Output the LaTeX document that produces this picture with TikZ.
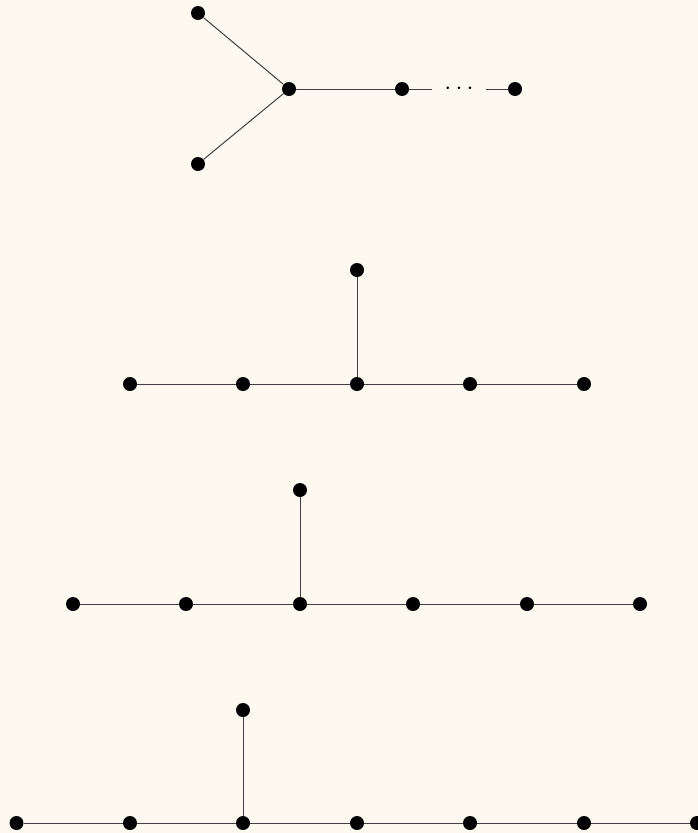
\documentclass[tikz,border=0pt]{standalone}
\definecolor{bgcream}{RGB}{253,248,240}
\begin{document}
\begin{tikzpicture}[x=1pt,y=-1pt,
  vtx/.style={circle,fill=black,inner sep=0pt,minimum size=14pt},
  edge/.style={line width=1pt,black!75},
  dotsnode/.style={inner sep=0pt,minimum width=54pt,minimum height=10pt,font=\fontsize{24}{28}\selectfont}]
\fill[bgcream] (0,0) rectangle (698,833);
\useasboundingbox (0,0) rectangle (698,833);
% D_n
\node[vtx] (d1) at (198,13) {};
\node[vtx] (d2) at (198,164) {};
\node[vtx] (d3) at (289,89) {};
\node[vtx] (d4) at (402,89) {};
\node[vtx] (d5) at (515,89) {};
\node[dotsnode] (dd) at (459,89) {$\cdots$};
\draw[edge] (d1) -- (d3);
\draw[edge] (d2) -- (d3);
\draw[edge] (d3) -- (d4);
\draw[edge] (d4) -- (dd);
\draw[edge] (dd) -- (d5);
% E6
\node[vtx] (e6t) at (357,270) {};
\node[vtx] (e61) at (130,384) {};
\node[vtx] (e62) at (243,384) {};
\node[vtx] (e63) at (357,384) {};
\node[vtx] (e64) at (470,384) {};
\node[vtx] (e65) at (584,384) {};
\draw[edge] (e61) -- (e62) -- (e63) -- (e64) -- (e65);
\draw[edge] (e6t) -- (e63);
% E7
\node[vtx] (e7t) at (300,490) {};
\node[vtx] (e71) at (73,604) {};
\node[vtx] (e72) at (186,604) {};
\node[vtx] (e73) at (300,604) {};
\node[vtx] (e74) at (413,604) {};
\node[vtx] (e75) at (527,604) {};
\node[vtx] (e76) at (640,604) {};
\draw[edge] (e71) -- (e72) -- (e73) -- (e74) -- (e75) -- (e76);
\draw[edge] (e7t) -- (e73);
% E8
\node[vtx] (e8t) at (243,710) {};
\node[vtx] (e81) at (16.5,823) {};
\node[vtx] (e82) at (130,823) {};
\node[vtx] (e83) at (243,823) {};
\node[vtx] (e84) at (357,823) {};
\node[vtx] (e85) at (470,823) {};
\node[vtx] (e86) at (584,823) {};
\node[vtx] (e87) at (697,823) {};
\draw[edge] (e81) -- (e82) -- (e83) -- (e84) -- (e85) -- (e86) -- (e87);
\draw[edge] (e8t) -- (e83);
\end{tikzpicture}
\end{document}
